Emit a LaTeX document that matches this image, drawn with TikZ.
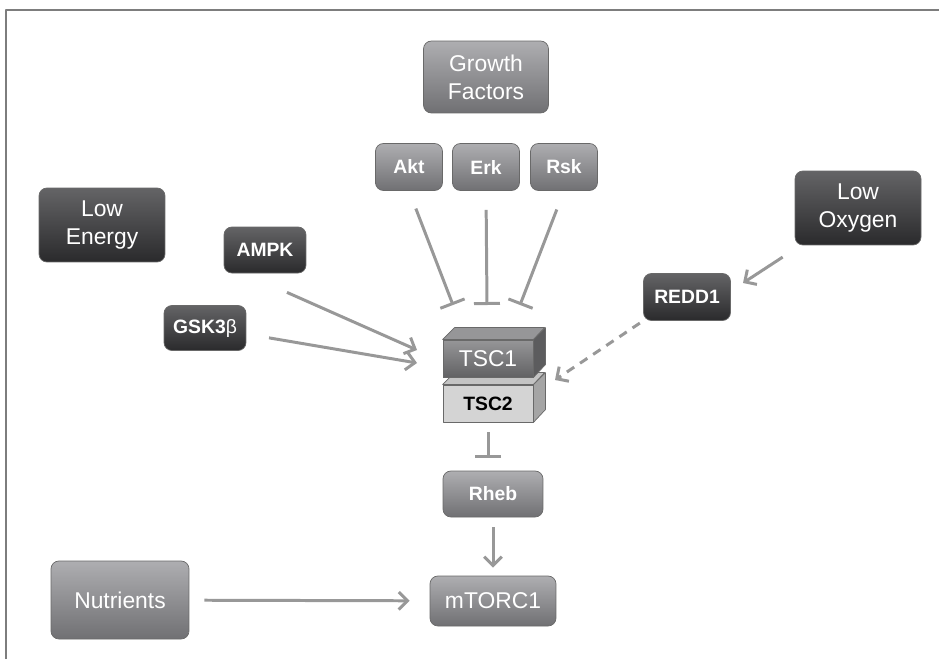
\documentclass[tikz,border=0pt]{standalone}
\usepackage{fontspec}
\setmainfont{Liberation Sans}
\usetikzlibrary{arrows.meta}
\definecolor{darktop}{RGB}{100,100,102}
\definecolor{darkbottom}{RGB}{42,42,44}
\definecolor{midtop}{RGB}{174,174,177}
\definecolor{midbottom}{RGB}{112,112,115}
\definecolor{linegray}{RGB}{152,152,152}
\definecolor{framegray}{RGB}{125,125,125}
\definecolor{edgegray}{RGB}{105,105,105}
\definecolor{tsconetop}{RGB}{150,150,152}
\definecolor{tsconebottom}{RGB}{98,98,100}
\definecolor{tsconeside}{RGB}{92,92,94}
\definecolor{tsctwofront}{RGB}{212,212,212}
\definecolor{tsctwotop}{RGB}{196,196,196}
\definecolor{tsctwoside}{RGB}{165,165,165}

\begin{document}
\begin{tikzpicture}[x=0.02cm, y=-0.02cm, line join=round,
    box/.style={rounded corners=4.5pt, draw=edgegray, line width=0.4pt, text=white, align=center, inner sep=0pt},
    bigfont/.style={font=\fontsize{13}{16}\selectfont},
    boldfont/.style={font=\fontsize{11}{13}\selectfont\bfseries},
    darkbox/.style={box, top color=darktop, bottom color=darkbottom},
    midbox/.style={box, top color=midtop, bottom color=midbottom},
    tscface/.style={draw=edgegray, line width=0.5pt, minimum width=1.8cm, minimum height=0.74cm, inner sep=0pt},
    act/.style={draw=linegray, line width=1.7pt, -{Straight Barb[length=5pt,width=10pt]}},
    inh/.style={draw=linegray, line width=1.7pt, -{Bar[width=0.52cm]}}]
    \useasboundingbox (0,0) rectangle (939,659);

    % Frame
    \draw[framegray, line width=0.05cm] (6,659) -- (6,10) -- (939,10);

    % Growth factor branch
    \node[midbox, bigfont, minimum width=2.5cm, minimum height=1.44cm] (growth) at (486,77) {Growth\\Factors};
    \node[midbox, boldfont, minimum width=1.34cm, minimum height=0.94cm] (akt) at (409,167) {Akt};
    \node[midbox, boldfont, minimum width=1.34cm, minimum height=0.94cm] (erk) at (486,167) {Erk};
    \node[midbox, boldfont, minimum width=1.34cm, minimum height=0.94cm] (rsk) at (564,167) {Rsk};

    % Energy branch
    \node[darkbox, bigfont, minimum width=2.52cm, minimum height=1.48cm] (lowenergy) at (102,225) {Low\\Energy};
    \node[darkbox, boldfont, minimum width=1.64cm, minimum height=0.92cm] (ampk) at (265,250) {AMPK};
    \node[darkbox, boldfont, minimum width=1.64cm, minimum height=0.9cm] (gsk) at (205,328) {GSK3{\normalfont β}};

    % Oxygen branch
    \node[darkbox, bigfont, minimum width=2.52cm, minimum height=1.48cm] (lowoxygen) at (858,208) {Low\\Oxygen};
    \node[darkbox, boldfont, minimum width=1.74cm, minimum height=0.94cm] (redd) at (687,297) {REDD1};

    % TSC complex
    \node[tscface, fill=tsctwofront, boldfont] (tsctwo) at (488,403.5) {TSC2};
    \filldraw[draw=edgegray, fill=tsctwotop] (tsctwo.north west) -- ++(12,-12) -- ++(90,0) -- (tsctwo.north east) -- cycle;
    \filldraw[draw=edgegray, fill=tsctwoside] (tsctwo.north east) -- ++(12,-12) -- ++(0,37) -- (tsctwo.south east) -- cycle;
    \node[tscface, top color=tsconetop, bottom color=tsconebottom, text=white, bigfont] (tscone) at (488,358.5) {TSC1};
    \filldraw[draw=edgegray, fill=tsconetop] (tscone.north west) -- ++(12,-12) -- ++(90,0) -- (tscone.north east) -- cycle;
    \filldraw[draw=edgegray, fill=tsconeside] (tscone.north east) -- ++(12,-12) -- ++(0,37) -- (tscone.south east) -- cycle;

    % Downstream
    \node[midbox, boldfont, minimum width=2cm, minimum height=0.92cm] (rheb) at (493,494) {Rheb};
    \node[midbox, bigfont, minimum width=2.52cm, minimum height=1cm] (mtorc) at (493,601) {mTORC1};
    \node[midbox, bigfont, minimum width=2.76cm, minimum height=1.56cm] (nutrients) at (120,600) {Nutrients};

    % Connector ends
    \coordinate (aktend) at (453,305);
    \coordinate (erkend) at (487,305);
    \coordinate (rskend) at (520,305);
    \coordinate (ampkend) at (417,350);
    \coordinate (gskend) at (417,363);
    \coordinate (oxyend) at (743,283);
    \coordinate (reddend) at (555,380);
    \coordinate (rhebend) at (488,458);

    % Connectors
    \draw[inh, shorten <=0.38cm] (akt.south) -- (aktend);
    \draw[inh, shorten <=0.38cm] (erk.south) -- (erkend);
    \draw[inh, shorten <=0.4cm] (rsk.south) -- (rskend);
    \draw[act, shorten <=0.94cm] ([xshift=-0.42cm]ampk.south) -- (ampkend);
    \draw[act, shorten <=0.46cm] ([yshift=-0.12cm]gsk.east) -- (gskend);
    \draw[act, shorten <=0.43cm] ([xshift=0.12cm]lowoxygen.south west) -- (oxyend);
    \draw[act, dash pattern=on 5pt off 4pt, shorten <=0.08cm] (redd.south west) -- (reddend);
    \draw[inh, shorten <=0.2cm] (tsctwo.south) -- (rhebend);
    \draw[act, shorten <=0.2cm, shorten >=0.16cm] (rheb) -- (mtorc);
    \draw[act, shorten <=0.3cm, shorten >=0.4cm] (nutrients) -- (mtorc);
\end{tikzpicture}
\end{document}
